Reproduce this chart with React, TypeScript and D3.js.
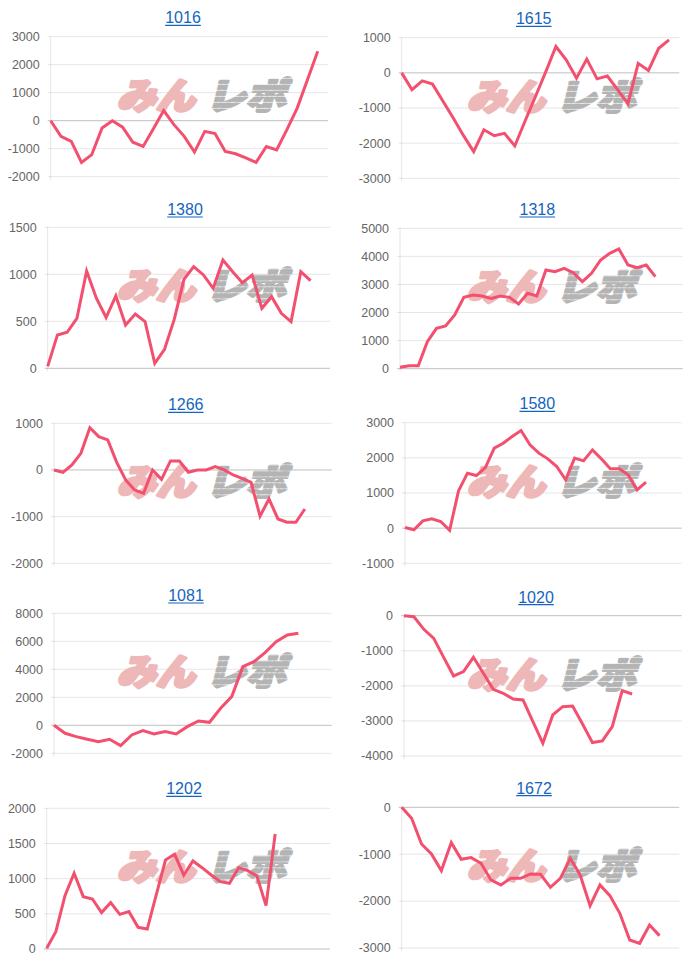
import React from "react";
import * as d3 from "d3";

// ---------- DATA ----------
const chartTitles = ["1016", "1615", "1380", "1318", "1266", "1580", "1081", "1020", "1202", "1672"];

const values1016 = [0, -560, -740, -1490, -1210, -260, 0, -230, -770, -920, -290, 360, -140, -560, -1120, -380, -460, -1100, -1180, -1330, -1490, -920, -1040, -320, 450, 1460, 2480];
const values1615 = [0, -480, -230, -320, -800, -1280, -1780, -2240, -1620, -1790, -1720, -2080, -1370, -680, 20, 750, 370, -150, 390, -170, -90, -480, -880, 270, 70, 700, 940];
const values1380 = [20, 355, 383, 532, 1035, 745, 540, 770, 461, 578, 496, 53, 202, 520, 947, 1082, 993, 851, 1152, 1028, 911, 993, 638, 762, 585, 496, 1028, 933];
const values1318 = [50, 107, 107, 962, 1437, 1520, 1912, 2541, 2625, 2589, 2506, 2589, 2541, 2304, 2684, 2589, 3515, 3456, 3575, 3420, 3100, 3397, 3872, 4109, 4264, 3694, 3599, 3694, 3278];
const values1266 = [0, -50, 107, 357, 907, 714, 643, 164, -214, -430, -500, 0, -200, 193, 193, -50, 0, 0, 71, 0, -107, -179, -264, -990, -621, -1050, -1121, -1121, -836];
const values1580 = [20, -47, 208, 265, 190, -60, 1062, 1564, 1498, 1725, 2275, 2417, 2607, 2777, 2370, 2133, 1972, 1754, 1374, 1991, 1915, 2227, 1972, 1687, 1687, 1517, 1090, 1308];
const values1081 = [0, -571, -810, -1000, -1167, -1000, -1452, -690, -381, -619, -452, -619, -95, 310, 214, 1214, 2048, 4190, 4548, 5190, 5976, 6452, 6571];
const values1020 = [0, -30, -389, -646, -1187, -1719, -1595, -1187, -1643, -2099, -2213, -2374, -2403, -3020, -3637, -2830, -2593, -2574, -3086, -3618, -3571, -3162, -2137, -2232];
const values1202 = [10, 246, 758, 1076, 744, 711, 517, 659, 493, 531, 308, 284, 777, 1265, 1346, 1052, 1251, 1156, 1052, 957, 934, 1156, 1114, 1038, 616, 1635];
const values1672 = [0, -235, -782, -995, -1350, -753, -1109, -1073, -1194, -1549, -1656, -1514, -1514, -1421, -1429, -1706, -1514, -1087, -1443, -2097, -1656, -1883, -2260, -2829, -2900, -2509, -2736];

// number of x categories on each chart's axis
const categoryCounts = [28, 28, 30, 32, 32, 32, 26, 29, 32, 29];

const ticks1016 = [-2000, -1000, 0, 1000, 2000, 3000];
const ticks1615 = [-3000, -2000, -1000, 0, 1000];
const ticks1380 = [0, 500, 1000, 1500];
const ticks1318 = [0, 1000, 2000, 3000, 4000, 5000];
const ticks1266 = [-2000, -1000, 0, 1000];
const ticks1580 = [-1000, 0, 1000, 2000, 3000];
const ticks1081 = [-2000, 0, 2000, 4000, 6000, 8000];
const ticks1020 = [-4000, -3000, -2000, -1000, 0];
const ticks1202 = [0, 500, 1000, 1500, 2000];
const ticks1672 = [-3000, -2000, -1000, 0];

const seriesList = [values1016, values1615, values1380, values1318, values1266, values1580, values1081, values1020, values1202, values1672];
const tickList = [ticks1016, ticks1615, ticks1380, ticks1318, ticks1266, ticks1580, ticks1081, ticks1020, ticks1202, ticks1672];

// ---------- LAYOUT ----------
// plot boxes: [left, right, top, bottom]
const plotBoxes = [
  [50.7, 328, 36.7, 176.7],
  [401.7, 679.3, 37.7, 178.3],
  [47.7, 330, 227.3, 368.3],
  [400, 682.7, 228.3, 368.7],
  [54, 331.7, 423.3, 563.3],
  [405, 681.7, 422.7, 563.3],
  [54, 331.7, 613.3, 753.3],
  [404, 681.7, 615.7, 756],
  [46.7, 330, 808.3, 949],
  [401.7, 679.3, 807.3, 948],
];
const titleCenters = [
  [183, 17.3], [533.7, 18.3], [185, 209], [537.3, 209], [185.7, 404.3],
  [537.3, 403.3], [186, 595], [536, 596.7], [184, 788.3], [534, 787.7],
];

const LINE_COLOR = "#f3506f";
const TITLE_COLOR = "#1565c0";
const FONT = "'Liberation Sans', Arial, Helvetica, sans-serif";

function Watermark({ x, y }: { x: number; y: number }) {
  return (
    <g transform={`translate(${x}, ${y})`}>
      <g transform="skewX(-14)">
        <text x={1} y={0} fontSize={36} fontWeight={900} fontFamily="'Noto Sans CJK JP'" fill="#eeb8b8"
          stroke="#eeb8b8" strokeWidth={3.2} strokeLinejoin="round"
          textLength={78} lengthAdjust="spacingAndGlyphs">みん</text>
        <text x={90} y={0} fontSize={36} fontWeight={900} fontFamily="'Noto Sans CJK JP'" fill="url(#wmStripes)"
          stroke="url(#wmStripes)" strokeWidth={3.2} strokeLinejoin="round"
          textLength={80} lengthAdjust="spacingAndGlyphs">レポ</text>
      </g>
    </g>
  );
}

function Panel({ idx }: { idx: number }) {
  const [x0, x1, y0, y1] = plotBoxes[idx];
  const ticks = tickList[idx];
  const values = seriesList[idx];
  const n = categoryCounts[idx];
  const x = d3.scalePoint<number>().domain(d3.range(n)).range([x0, x1]);
  const y = d3.scaleLinear().domain([d3.min(ticks)!, d3.max(ticks)!]).range([y1, y0]);
  const line = d3.line<number>().x((_, i) => x(i)!).y((d) => y(d));
  const panelX = idx % 2 === 0 ? 0 : 350;
  const [tx, ty] = titleCenters[idx];
  const title = chartTitles[idx];
  const titleW = title.length * 8.9;
  return (
    <g>
      {ticks.map((t) => (
        <line key={"g" + t} x1={x0 - 3} x2={x1} y1={y(t)} y2={y(t)}
          stroke={t === 0 ? "rgba(0,0,0,0.25)" : "rgba(0,0,0,0.1)"} strokeWidth={1} />
      ))}
      <line x1={x0} x2={x0} y1={y0} y2={y1 + 3} stroke="rgba(0,0,0,0.1)" strokeWidth={1} />
      {ticks.map((t) => (
        <text key={"t" + t} x={x0 - 11} y={y(t)} dy="0.35em" textAnchor="end" fontSize={12.5}
          fontFamily={FONT} fill="#666">{t}</text>
      ))}
      <Watermark x={panelX + 116} y={y0 + 72} />
      <path d={line(values) || ""} fill="none" stroke={LINE_COLOR} strokeWidth={3} strokeLinejoin="miter" />
      <text x={tx} y={ty + 5.8} textAnchor="middle" fontSize={16} fontFamily={FONT} fill={TITLE_COLOR}>{title}</text>
      <line x1={tx - titleW / 2} x2={tx + titleW / 2} y1={ty + 8} y2={ty + 8} stroke={TITLE_COLOR} strokeWidth={1.2} />
    </g>
  );
}

export default function App() {
  return (
    <svg width={700} height={966} style={{ position: "absolute", left: 0, top: 0, background: "#fff" }}>
      <defs>
        <pattern id="wmStripes" patternUnits="userSpaceOnUse" width={8} height={6}>
          <rect x={0} y={0} width={8} height={5.2} fill="#b4b4b4" />
        </pattern>
      </defs>
      <rect width={700} height={966} fill="#fff" />
      {chartTitles.map((_, i) => (
        <Panel key={i} idx={i} />
      ))}
    </svg>
  );
}
